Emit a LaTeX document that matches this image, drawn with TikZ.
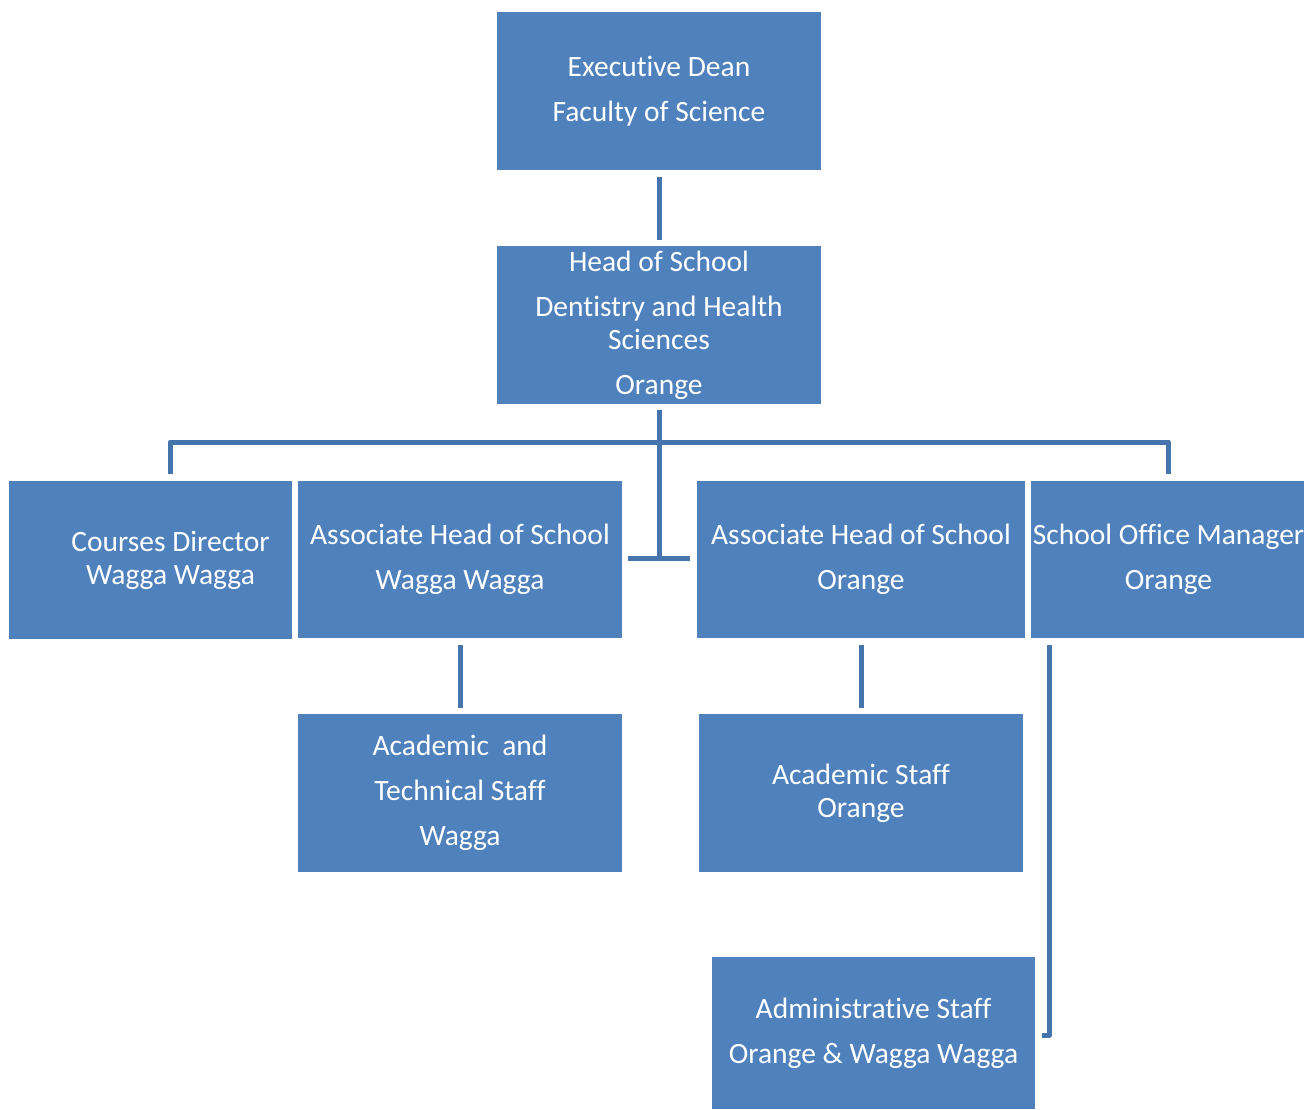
\documentclass[tikz,border=0pt]{standalone}
\usepackage{fontspec}
\setmainfont[Ligatures={NoCommon}]{Carlito}
\usetikzlibrary{calc}
\definecolor{boxblue}{HTML}{4F81BD}
\definecolor{linkblue}{HTML}{4675AD}
\begin{document}
\begin{tikzpicture}[x=1pt,y=-1pt,
  box/.style={fill=boxblue, text=white, inner sep=0pt, align=center,
    font=\fontsize{29.5}{33}\selectfont},
  conn/.style={draw=linkblue, line width=5pt, line join=round}]
\useasboundingbox (0,0) rectangle (1304,1110);
\node[box, minimum width=324pt, minimum height=158pt] (ed) at (659,91)
  {Executive Dean\\[12pt]Faculty of Science};
\node[box, minimum width=324pt, minimum height=158pt] (hos) at (659,325)
  {Head of School\\[12pt]Dentistry and Health\\Sciences\\[12pt]Orange};
\node[box, minimum width=283pt, minimum height=158pt] (cd) at (150.5,560)
  {\hspace*{40pt}Courses Director\\\hspace*{40pt}Wagga Wagga};
\node[box, minimum width=324pt, minimum height=157pt] (ahw) at (460,559.5)
  {Associate Head of School\\[12pt]Wagga Wagga};
\node[box, minimum width=328pt, minimum height=157pt] (aho) at (861,559.5)
  {Associate Head of School\\[12pt]Orange};
\node[box, minimum width=275pt, minimum height=157pt] (som) at (1168.5,559.5)
  {School Office Manager\\[12pt]Orange};
\node[box, minimum width=324pt, minimum height=158pt] (atw) at (460,793)
  {Academic\ \ and\\[12pt]Technical Staff\\[12pt]Wagga};
\node[box, minimum width=324pt, minimum height=158pt] (aso) at (861,793)
  {Academic Staff\\Orange};
\node[box, minimum width=323pt, minimum height=152pt] (adm) at (873.5,1033)
  {Administrative Staff\\[12pt]Orange \& Wagga Wagga};
\coordinate (bus) at (659,442);
\coordinate (tee) at (659,558);
\draw[conn] ([yshift=-7pt]ed.south) -- ([yshift=6pt]hos.north);
\draw[conn] ([yshift=-6pt]hos.south) -- (tee);
\draw[conn] ([xshift=-31pt]tee) -- ([xshift=31pt]tee);
\draw[conn] ([xshift=19.5pt,yshift=7pt]cd.north) |- (bus) -| ([yshift=7pt]som.north);
\draw[conn] ([yshift=-7pt]ahw.south) -- ([yshift=6pt]atw.north);
\draw[conn] ([yshift=-7pt]aho.south) -- ([yshift=6pt]aso.north);
\draw[conn] ([xshift=19pt,yshift=-7pt]som.south west) |- ([xshift=7pt,yshift=-2pt]adm.east);
\end{tikzpicture}
\end{document}
